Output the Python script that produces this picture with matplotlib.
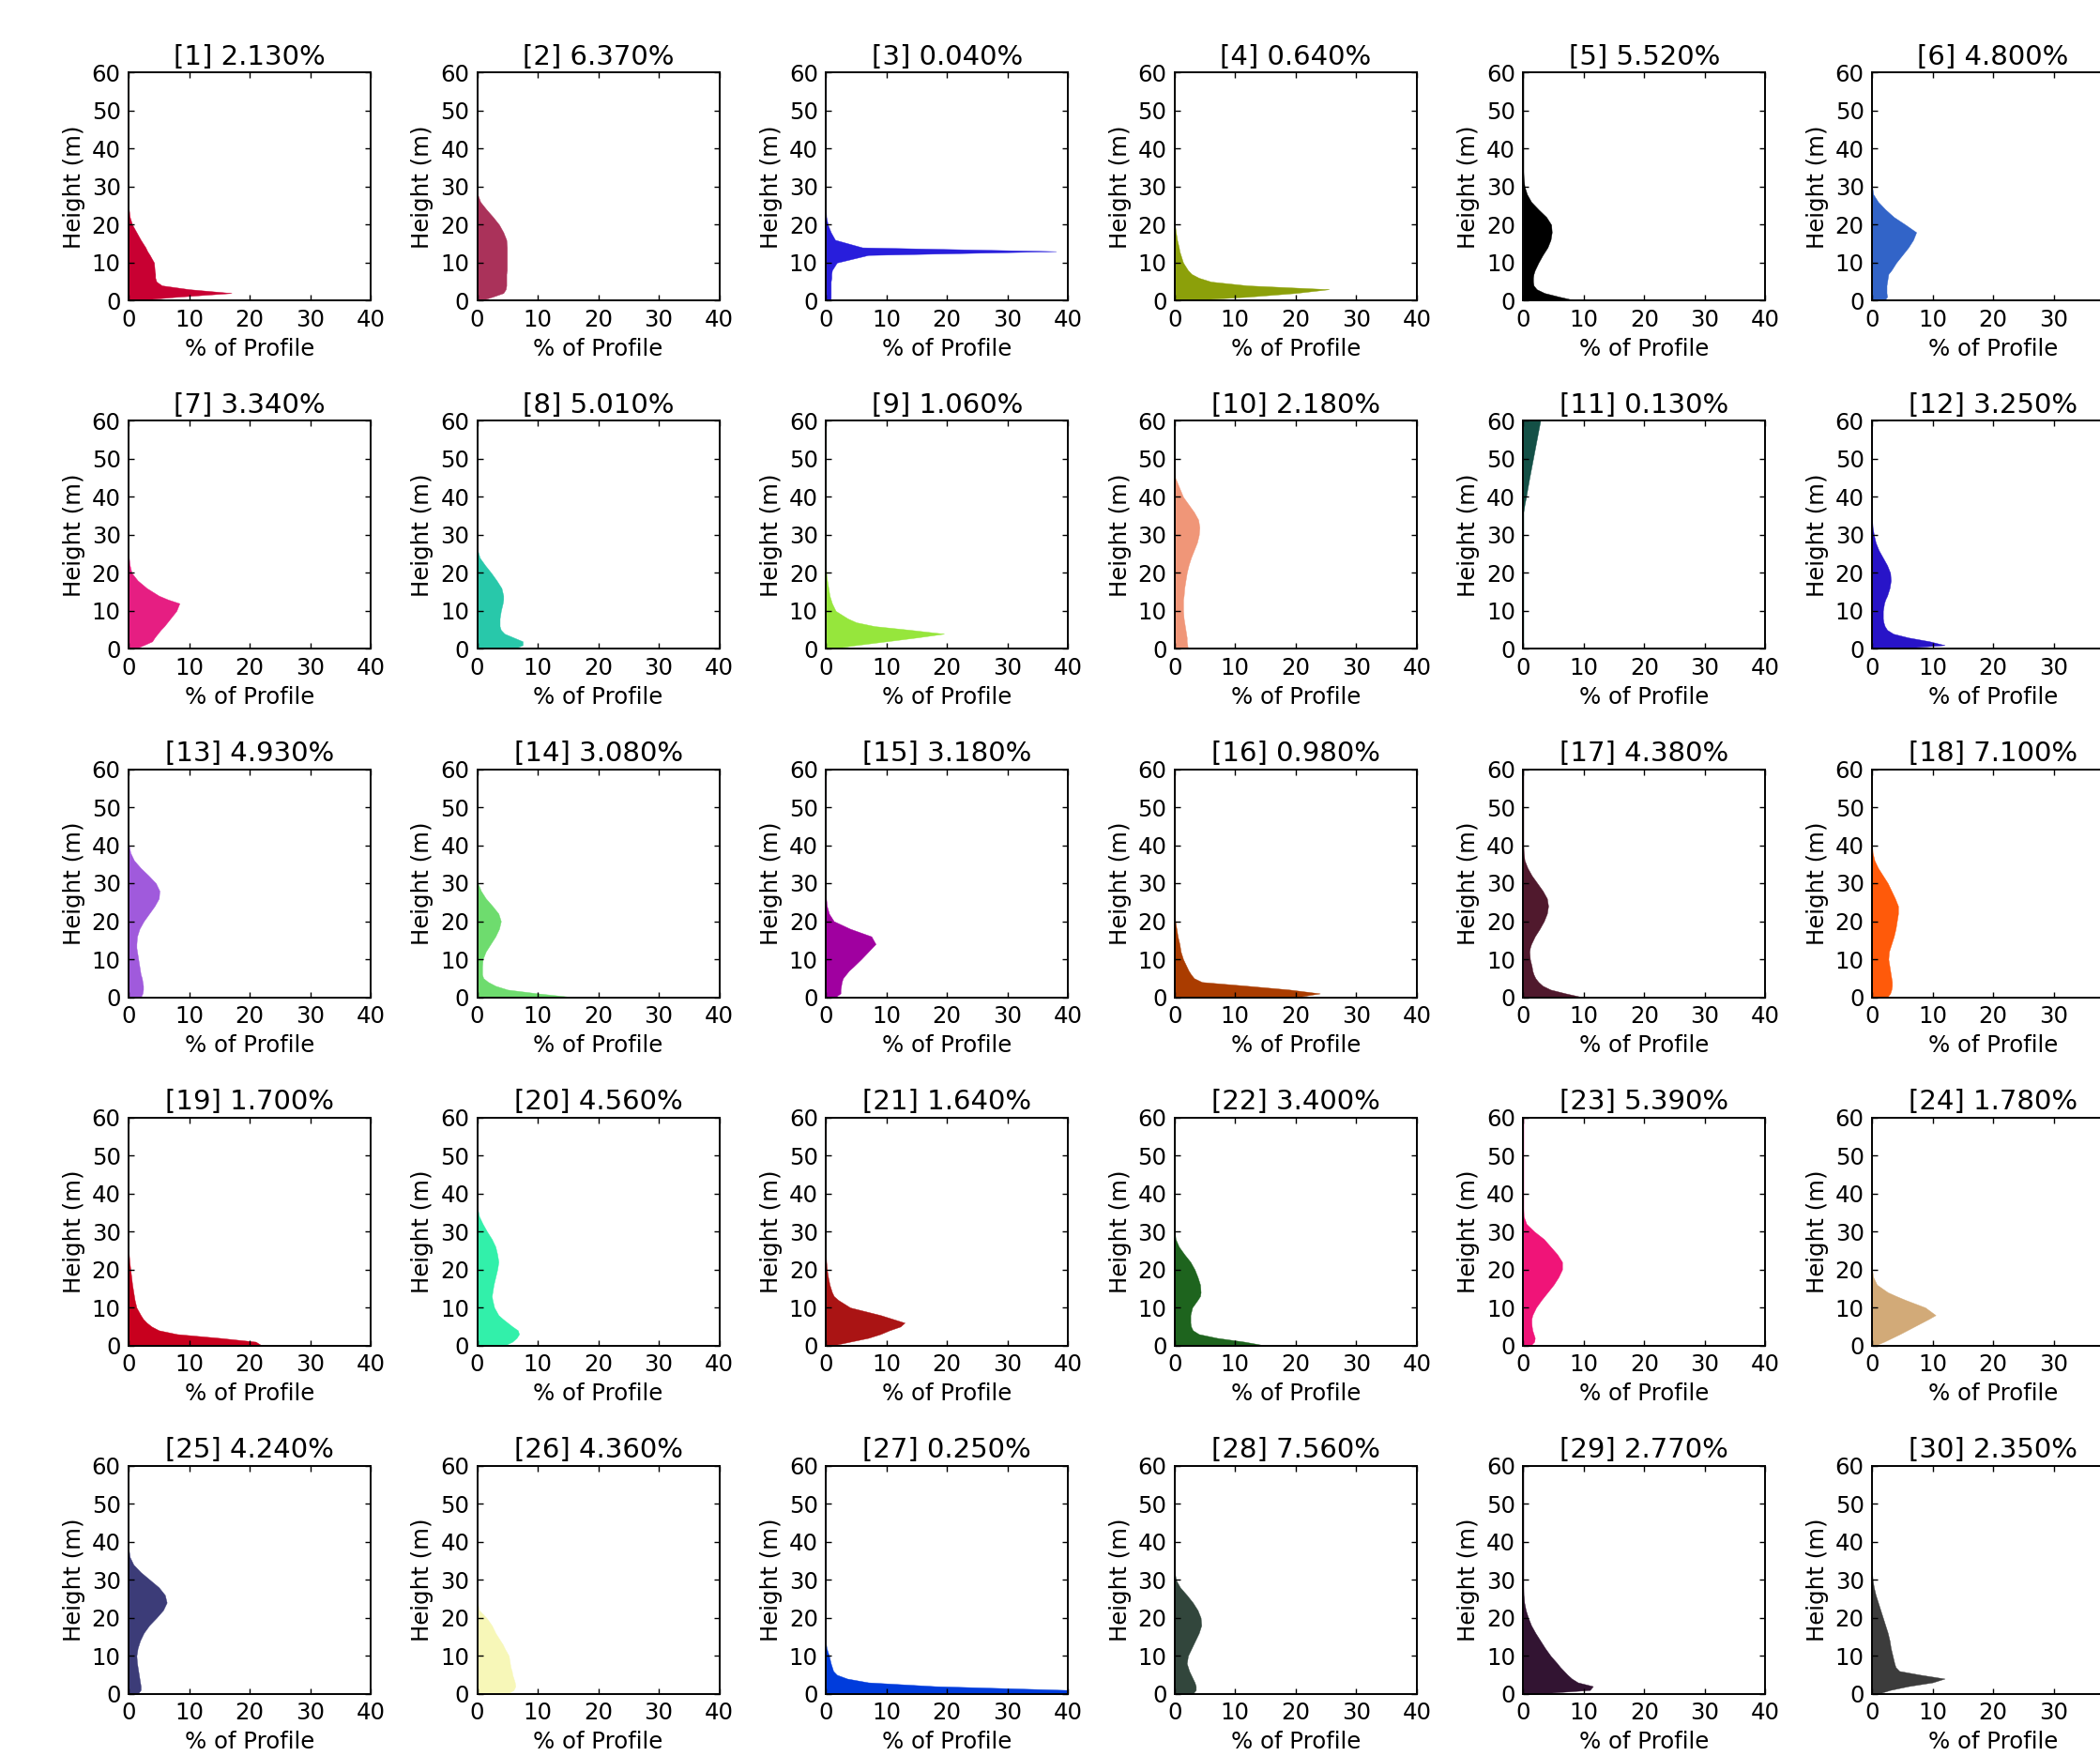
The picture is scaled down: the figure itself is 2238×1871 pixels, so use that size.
import numpy as np
import matplotlib.pyplot as plt

# height grid (m) shared by all profiles
heights = [0, 1, 2, 3, 4, 5, 6, 7, 8, 10, 12, 13, 14, 16, 18, 20, 22, 24, 26, 28,
           30, 32, 34, 36, 38, 40, 45, 50, 55, 60]

def pad(vals):
    return vals + [0] * (len(heights) - len(vals))

p01 = pad([0.5, 8, 17, 10, 5.5, 4.6, 4.4, 4.4, 4.3, 4.2, 3.5, 3.1, 2.8, 2.0, 1.3, 0.6, 0.2, 0.05])
p02 = pad([0.5, 2.5, 4.3, 4.7, 4.8, 4.8, 4.8, 4.8, 4.9, 4.9, 4.9, 4.9, 4.9, 4.8, 4.3, 3.6, 2.6, 1.5, 0.5, 0.05])
p03 = pad([0.8, 0.8, 0.8, 0.8, 0.8, 0.8, 0.9, 0.9, 1.0, 1.8, 7, 38, 6, 1.5, 0.8, 0.3, 0.05])
p04 = pad([1, 12, 20, 25.5, 12, 6, 4, 2.8, 2.2, 1.4, 1.0, 0.8, 0.7, 0.4, 0.2, 0.05])
p05 = pad([8.8, 6, 3.5, 2.2, 1.7, 1.6, 1.6, 1.7, 1.9, 2.5, 3.2, 3.6, 4.0, 4.5, 4.7, 4.6, 3.8, 2.5, 1.3, 0.6, 0.2, 0.05])
p06 = pad([2.0, 2.5, 2.4, 2.4, 2.4, 2.5, 2.6, 2.7, 3.2, 4.0, 5.0, 5.5, 6.0, 6.8, 7.3, 5.5, 3.6, 2.2, 1.0, 0.2, 0.02])
p07 = pad([1, 2.5, 3.9, 4.3, 4.8, 5.3, 5.9, 6.4, 6.9, 7.9, 8.4, 6.5, 5.0, 3.0, 1.5, 0.5, 0.2, 0.05])
p08 = pad([6, 7.5, 7.5, 6, 4.5, 3.9, 3.7, 3.7, 3.7, 3.9, 4.2, 4.3, 4.3, 4.0, 3.2, 2.3, 1.3, 0.4, 0.05])
p09 = pad([0.5, 5, 10, 15, 19.5, 14, 8, 5, 3.6, 1.6, 1.0, 0.8, 0.6, 0.4, 0.2, 0.05])
p10 = pad([2.2, 2.1, 2.0, 2.0, 1.9, 1.8, 1.7, 1.6, 1.5, 1.4, 1.4, 1.4, 1.5, 1.6, 1.8, 2.0, 2.3, 2.7, 3.2, 3.7,
           4.0, 4.1, 3.9, 3.2, 2.3, 1.4, 0.1])
p11 = [0] * 24 + [0.2, 0.45, 1.0, 1.6, 2.2, 2.8]
p12 = pad([3, 12, 9.5, 6, 3.5, 2.5, 2.1, 1.9, 1.8, 1.8, 2.0, 2.2, 2.5, 2.9, 3.1, 3.0, 2.5, 1.8, 1.1, 0.6, 0.3, 0.1, 0.02])
p13 = pad([2.0, 2.3, 2.4, 2.4, 2.3, 2.2, 2.0, 1.9, 1.8, 1.6, 1.4, 1.3, 1.3, 1.4, 1.8, 2.5, 3.4, 4.3, 5.0, 5.1,
           4.5, 3.3, 2.0, 0.9, 0.3, 0.05])
p14 = pad([16, 10, 5, 3, 1.8, 1.0, 0.8, 0.8, 0.8, 0.9, 1.4, 1.8, 2.2, 3.0, 3.6, 3.9, 3.5, 2.5, 1.4, 0.6, 0.1])
p15 = pad([1.5, 2.4, 2.4, 2.5, 2.6, 2.8, 3.3, 3.8, 4.5, 5.8, 7.0, 7.6, 8.2, 7.5, 4.0, 1.3, 0.5, 0.15, 0.02])
p16 = pad([20, 24, 19, 12, 4.5, 3.2, 2.7, 2.3, 2.0, 1.4, 1.0, 0.9, 0.8, 0.5, 0.3, 0.1, 0.05, 0.02])
p17 = pad([9.8, 7, 4.5, 3.2, 2.5, 2.0, 1.7, 1.5, 1.4, 1.1, 1.0, 1.1, 1.3, 1.9, 2.7, 3.4, 3.9, 4.1, 3.9, 3.2,
           2.3, 1.4, 0.7, 0.2, 0.05])
p18 = pad([2.5, 3.0, 3.2, 3.3, 3.3, 3.2, 3.1, 3.0, 2.9, 2.7, 2.8, 3.0, 3.2, 3.6, 3.9, 4.1, 4.3, 4.3, 3.8, 3.2,
           2.6, 1.8, 1.0, 0.4, 0.1, 0.02])
p19 = pad([22, 21, 15, 8, 5, 3.8, 3.0, 2.4, 2.0, 1.3, 1.0, 0.9, 0.8, 0.6, 0.45, 0.3, 0.15, 0.05, 0.01])
p20 = pad([4.5, 5.8, 6.5, 6.9, 6.7, 5.8, 5.0, 4.2, 3.5, 2.8, 2.5, 2.4, 2.5, 2.7, 3.0, 3.3, 3.5, 3.3, 3.0, 2.4,
           1.6, 0.9, 0.3, 0.05])
p21 = pad([1, 4, 7, 9, 10.5, 12.3, 13, 11, 9, 4, 2.0, 1.3, 1.0, 0.6, 0.35, 0.15, 0.05])
p22 = pad([15, 11.5, 7, 4, 3.0, 2.7, 2.6, 2.6, 2.6, 2.9, 3.8, 4.2, 4.3, 4.2, 3.8, 3.3, 2.6, 1.6, 0.7, 0.15, 0.02])
p23 = pad([1.2, 1.8, 1.9, 1.7, 1.5, 1.4, 1.35, 1.35, 1.5, 2.1, 3.0, 3.5, 4.0, 5.0, 5.8, 6.4, 6.4, 5.6, 4.5, 3.4,
           1.8, 0.5, 0.05])
p24 = pad([0.5, 2.0, 3.3, 4.6, 5.8, 7.0, 8.2, 9.4, 10.5, 8.8, 5.5, 4, 2.6, 0.8, 0.2, 0.02])
p25 = pad([1.5, 2.0, 2.0, 1.9, 1.8, 1.7, 1.6, 1.5, 1.4, 1.3, 1.5, 1.7, 1.9, 2.5, 3.4, 4.6, 5.7, 6.3, 6.0, 5.0,
           3.5, 2.0, 0.8, 0.2, 0.02])
p26 = pad([5, 6, 6.3, 6.2, 6.0, 5.8, 5.7, 5.5, 5.4, 5.2, 4.5, 4.2, 3.8, 3.0, 2.4, 1.5, 0.3, 0.05])
p27 = pad([45, 40, 18, 7, 3.5, 1.8, 1.2, 1.0, 0.8, 0.5, 0.1, 0.02])
p28 = pad([3, 3.5, 3.5, 3.3, 3.0, 2.7, 2.4, 2.2, 2.0, 2.2, 2.8, 3.1, 3.4, 4.0, 4.4, 4.3, 3.8, 3.0, 2.0, 0.9,
           0.2, 0.02])
p29 = pad([2, 11, 11.5, 9, 8, 7.3, 6.7, 6.1, 5.6, 4.5, 3.6, 3.2, 2.8, 2.0, 1.3, 0.8, 0.4, 0.15, 0.03])
p30 = pad([1, 3, 6, 10, 12, 8, 4.5, 3.9, 3.7, 3.4, 3.1, 3.0, 2.9, 2.6, 2.2, 1.8, 1.4, 1.0, 0.6, 0.3, 0.1, 0.02])

profiles = [p01, p02, p03, p04, p05, p06, p07, p08, p09, p10,
            p11, p12, p13, p14, p15, p16, p17, p18, p19, p20,
            p21, p22, p23, p24, p25, p26, p27, p28, p29, p30]

shares = [2.130, 6.370, 0.040, 0.640, 5.520, 4.800, 3.340, 5.010, 1.060, 2.180,
          0.130, 3.250, 4.930, 3.080, 3.180, 0.980, 4.380, 7.100, 1.700, 4.560,
          1.640, 3.400, 5.390, 1.780, 4.240, 4.360, 0.250, 7.560, 2.770, 2.350]

colors = ['#C80032', '#AA325A', '#281EDC', '#8CA00A', '#000000', '#3264C8',
          '#E61E82', '#28C8AA', '#96E63C', '#F09678', '#145046', '#2814C8',
          '#A05ADC', '#6EDC6E', '#A000A0', '#AA3C00', '#50192D', '#FF5A0A',
          '#C8001E', '#32F0AA', '#AA1414', '#1E641E', '#F01478', '#D2AA78',
          '#3C3C78', '#F7F7B8', '#003CDC', '#32463C', '#321432', '#3C3C3C']

W, H = 2238, 1871
fig = plt.figure(figsize=(W / 100, H / 100), dpi=100)

fs = 17.6
for i, prof in enumerate(profiles):
    r, c = divmod(i, 6)
    left = (137 + 371.6 * c) / W
    bottom = 1 - (77.3 + 371.1 * r + 243) / H
    ax = fig.add_axes([left, bottom, 258 / W, 243 / H])
    ax.fill_betweenx(heights, 0, prof, facecolor=colors[i], edgecolor=colors[i], linewidth=0.3)
    ax.set_xlim(0, 40)
    ax.set_ylim(0, 60)
    ax.set_xticks([0, 10, 20, 30, 40])
    ax.set_yticks([0, 10, 20, 30, 40, 50, 60])
    ax.tick_params(direction='in', top=True, right=True, length=4.3, width=1.0,
                   labelsize=fs, pad=6)
    for s in ax.spines.values():
        s.set_linewidth(1.4)
    ax.set_title('[%d] %.3f%%' % (i + 1, shares[i]), fontsize=21, pad=6)
    ax.set_xlabel('% of Profile', fontsize=fs, labelpad=5)
    ax.set_ylabel('Height (m)', fontsize=fs, labelpad=5)

fig.savefig('out.png', dpi=100)
